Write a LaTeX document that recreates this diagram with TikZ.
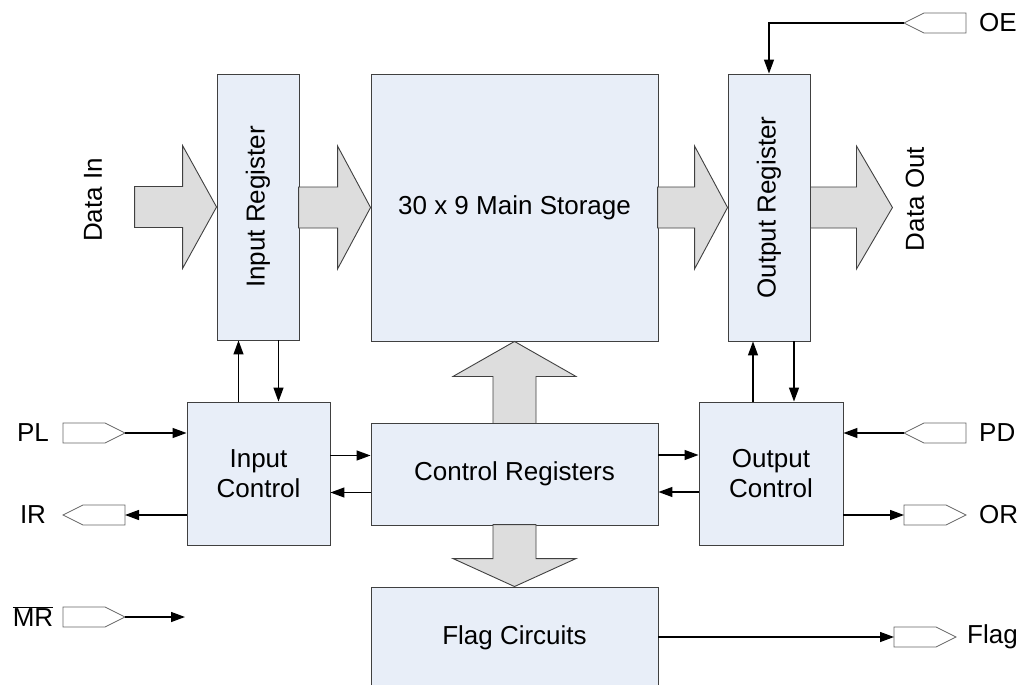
\documentclass[tikz,border=0pt]{standalone}
\usepackage{fontspec}
\setmainfont{Liberation Sans}
\usepackage{graphicx}
\usetikzlibrary{arrows.meta,positioning}

\definecolor{blockfill}{RGB}{232,238,248}
\definecolor{busfill}{RGB}{221,221,221}

\tikzset{
  blk/.style={draw=black!75, fill=blockfill, line width=0.9pt, inner sep=0pt, align=center},
  bus/.style={draw=black!75, fill=busfill, line width=0.9pt, line join=miter},
  sig/.style={line width=1.3pt, -{Triangle[length=14pt,width=10pt]}},
  pinbox/.style={draw=black!60, fill=white, line width=0.8pt},
  lbl/.style={inner sep=0pt},
  pinR/.pic={
    \draw[pinbox] (0,-10) -- (42,-10) -- (62,0) -- (42,10) -- (0,10) -- cycle;
    \coordinate (-w) at (0,0);
    \coordinate (-e) at (62,0);
  },
  pinL/.pic={
    \draw[pinbox] (0,0) -- (20,-10) -- (62,-10) -- (62,10) -- (20,10) -- cycle;
    \coordinate (-w) at (0,0);
    \coordinate (-e) at (62,0);
  }
}

\begin{document}
\begin{tikzpicture}[x=1pt, y=-1pt, font=\fontsize{26}{30}\selectfont]
    \useasboundingbox (0,0) rectangle (1031,685);
    \clip (0,0) rectangle (1031,685);

    % blocks
    \node[blk, minimum width=82pt, minimum height=266pt] (inreg) at (258,207) {\rotatebox{90}{Input Register}};
    \node[blk, minimum width=287pt, minimum height=267pt] (store) at (514.5,207.5) {30 x 9 Main Storage};
    \node[blk, minimum width=82pt, minimum height=267pt] (outreg) at (769,207.5) {\rotatebox{90}{Output Register}};
    \node[blk, minimum width=143pt, minimum height=143pt] (inctl) at (258.5,473.5) {Input\\Control};
    \node[blk, minimum width=287pt, minimum height=102pt] (ctlreg) at (514.5,474) {Control Registers};
    \node[blk, minimum width=144pt, minimum height=143pt] (outctl) at (771,473.5) {Output\\Control};
    \node[blk, minimum width=287pt, minimum height=102pt] (flagc) at (514.5,638) {Flag Circuits};

    % data bus arrows
    \draw[bus] (inreg.west) -- ++(-34,-61.5) -- ++(0,41) -- ++(-48,0) -- ++(0,41) -- ++(48,0) -- ++(0,41) -- cycle;
    \draw[bus] (store.west) -- ++(-33,-61.5) -- ++(0,41) -- ++(-39,0) -- ++(0,41) -- ++(39,0) -- ++(0,41) -- cycle;
    \draw[bus] (outreg.west) -- ++(-33,-61.5) -- ++(0,41) -- ++(-37,0) -- ++(0,41) -- ++(37,0) -- ++(0,41) -- cycle;
    \draw[bus] ([xshift=82pt]outreg.east) -- ++(-36,-61.5) -- ++(0,41) -- ++(-46,0) -- ++(0,41) -- ++(46,0) -- ++(0,41) -- cycle;
    \draw[bus] (store.south) -- ++(-61.5,35) -- ++(40,0) -- ++(0,47) -- ++(43,0) -- ++(0,-47) -- ++(40,0) -- cycle;
    \draw[bus] (flagc.north) -- ++(-61.5,-28) -- ++(40,0) -- ++(0,-34) -- ++(43,0) -- ++(0,34) -- ++(40,0) -- cycle;

    \node[lbl] (datain) at (93,200) {\rotatebox{90}{Data In}};
    \node[lbl] (dataout) at (915,199) {\rotatebox{90}{Data Out}};

    % register <-> control
    \draw[sig] ([xshift=-20pt]inctl.north) -- ([xshift=-20pt]inctl.north |- inreg.south);
    \draw[sig] ([xshift=20pt]inctl.north |- inreg.south) -- ([xshift=20pt]inctl.north);
    \draw[sig] ([xshift=-18pt]outctl.north) -- ([xshift=-18pt]outctl.north |- outreg.south);
    \draw[sig] ([xshift=23pt]outctl.north |- outreg.south) -- ([xshift=23pt]outctl.north);

    \draw[sig] ([yshift=18pt]inctl.east) -- ([yshift=18pt]inctl.east -| ctlreg.west);
    \draw[sig] ([yshift=-19pt]inctl.east -| ctlreg.west) -- ([yshift=-19pt]inctl.east);
    \draw[sig] ([yshift=19pt]ctlreg.east) -- ([yshift=19pt]ctlreg.east -| outctl.west);
    \draw[sig] ([yshift=-18pt]ctlreg.east -| outctl.west) -- ([yshift=-18pt]ctlreg.east);

    % pins
    \pic (pl) at (63,433) {pinR};
    \pic (ir) at (63,515) {pinL};
    \pic (mr) at (63,617) {pinR};
    \pic (pd) at (904,433) {pinL};
    \pic (orpin) at (904,515) {pinR};
    \pic (flagpin) at (894,637) {pinR};
    \pic (oe) at (904,23) {pinL};

    \node[lbl] at (33,433) {PL};
    \node[lbl] at (33,515) {IR};
    \node[lbl] at (33,617) {$\overline{\mbox{MR}}$};
    \node[lbl, right=13pt of pd-e] {PD};
    \node[lbl, right=13pt of orpin-e] {OR};
    \node[lbl, right=11pt of flagpin-e] {Flag};
    \node[lbl, right=13pt of oe-e] {OE};

    \coordinate (mrend) at (185,617);

    \draw[sig] (pl-e) -- (pl-e -| inctl.west);
    \draw[sig] (ir-e -| inctl.west) -- (ir-e);
    \draw[sig] (mr-e) -- (mrend);
    \draw[sig] (pd-w) -- (pd-w -| outctl.east);
    \draw[sig] (orpin-w -| outctl.east) -- (orpin-w);
    \draw[sig] (flagc.east |- flagpin-w) -- (flagpin-w);
    \draw[sig] (oe-w) -| (outreg.north);
\end{tikzpicture}
\end{document}
